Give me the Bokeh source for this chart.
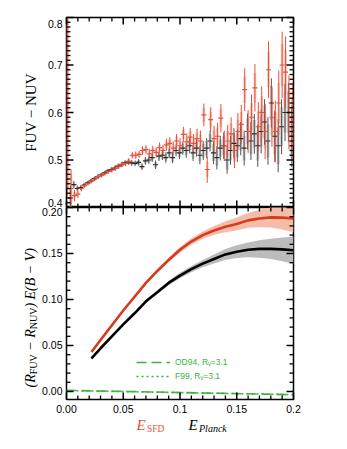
import numpy as np
from math import pi
from bokeh.plotting import figure
from bokeh.models import FixedTicker, Legend, LegendItem, Range1d, Label
from bokeh.layouts import column, row
from bokeh.embed import file_html
from bokeh.resources import INLINE

# ---------------- data ----------------
# top panel: FUV-NUV colour vs reddening, SFD (red) and Planck (black)
x_sfd = [0.001, 0.004, 0.007, 0.010, 0.013, 0.016, 0.019, 0.022, 0.025, 0.028,
         0.031, 0.034, 0.037, 0.040, 0.043, 0.046, 0.049, 0.052, 0.055, 0.058,
         0.061, 0.064, 0.067, 0.070, 0.073, 0.076, 0.079, 0.082, 0.085, 0.088,
         0.091, 0.094, 0.097, 0.100, 0.103, 0.106, 0.109, 0.112, 0.115, 0.118,
         0.121, 0.124, 0.127, 0.130, 0.133, 0.136, 0.139, 0.142, 0.145, 0.148,
         0.151, 0.154, 0.157, 0.160, 0.163, 0.166, 0.169, 0.172, 0.175, 0.178,
         0.181, 0.184, 0.187, 0.190, 0.193, 0.196, 0.199]
c_sfd = [0.62, 0.44, 0.425, 0.428, 0.44, 0.446, 0.451, 0.456, 0.46, 0.465,
         0.468, 0.472, 0.476, 0.479, 0.483, 0.487, 0.491, 0.493, 0.497, 0.51,
         0.51, 0.512, 0.52, 0.522, 0.513, 0.52, 0.516, 0.526, 0.52, 0.532,
         0.535, 0.525, 0.54, 0.53, 0.554, 0.538, 0.548, 0.535, 0.545, 0.54,
         0.595, 0.48, 0.585, 0.545, 0.55, 0.588, 0.53, 0.54, 0.555, 0.52,
         0.56, 0.575, 0.648, 0.56, 0.59, 0.652, 0.57, 0.6, 0.56, 0.69,
         0.59, 0.56, 0.62, 0.70, 0.685, 0.60, 0.58]
e_sfd = [0.2, 0.04, 0.012, 0.008, 0.006, 0.005, 0.005, 0.005, 0.005, 0.005,
         0.005, 0.005, 0.005, 0.005, 0.006, 0.006, 0.006, 0.006, 0.007, 0.007,
         0.008, 0.008, 0.009, 0.009, 0.010, 0.010, 0.011, 0.011, 0.012, 0.013,
         0.013, 0.014, 0.015, 0.016, 0.016, 0.018, 0.019, 0.020, 0.021, 0.022,
         0.024, 0.028, 0.026, 0.027, 0.028, 0.030, 0.032, 0.034, 0.035, 0.037,
         0.039, 0.041, 0.045, 0.045, 0.048, 0.05, 0.052, 0.055, 0.058, 0.06,
         0.062, 0.065, 0.068, 0.07, 0.075, 0.078, 0.08]
s_sfd = [0.18, 0.03, 0.008, 0.005, 0.004, 0.003, 0.003, 0.003, 0.003, 0.003,
         0.003, 0.003, 0.003, 0.003, 0.004, 0.004, 0.004, 0.004, 0.004, 0.004,
         0.005, 0.005, 0.006, 0.006, 0.006, 0.006, 0.007, 0.007, 0.008, 0.008,
         0.008, 0.009, 0.010, 0.010, 0.010, 0.011, 0.012, 0.012, 0.013, 0.014,
         0.015, 0.016, 0.016, 0.017, 0.018, 0.019, 0.020, 0.021, 0.022, 0.023,
         0.024, 0.026, 0.028, 0.028, 0.030, 0.031, 0.033, 0.034, 0.036, 0.037,
         0.039, 0.040, 0.042, 0.044, 0.046, 0.048, 0.05]

x_pl = [0.0035, 0.0065, 0.0095, 0.0125, 0.0155, 0.0185, 0.0215, 0.0245, 0.0275, 0.0305,
        0.0335, 0.0365, 0.0395, 0.0425, 0.0455, 0.0485, 0.0515, 0.0545, 0.0575, 0.0605,
        0.0635, 0.0665, 0.0695, 0.0725, 0.0755, 0.0785, 0.0815, 0.0845, 0.0875, 0.0905,
        0.0935, 0.0965, 0.0995, 0.1025, 0.1055, 0.1085, 0.1115, 0.1145, 0.1175, 0.1205,
        0.1235, 0.1265, 0.1295, 0.1325, 0.1355, 0.1385, 0.1415, 0.1445, 0.1475, 0.1505,
        0.1535, 0.1565, 0.1595, 0.1625, 0.1655, 0.1685, 0.1715, 0.1745, 0.1775, 0.1805,
        0.1835, 0.1865, 0.1895, 0.1925, 0.1955, 0.1985]
c_pl = [0.42, 0.448, 0.44, 0.442, 0.447, 0.452, 0.456, 0.461, 0.465, 0.469,
        0.473, 0.477, 0.48, 0.483, 0.487, 0.49, 0.494, 0.496, 0.494, 0.493,
        0.495, 0.486, 0.498, 0.50, 0.505, 0.49, 0.508, 0.51, 0.505, 0.515,
        0.505, 0.52, 0.515, 0.525, 0.52, 0.53, 0.515, 0.525, 0.51, 0.52,
        0.525, 0.54, 0.515, 0.505, 0.525, 0.53, 0.50, 0.52, 0.535, 0.53,
        0.545, 0.525, 0.56, 0.54, 0.555, 0.53, 0.56, 0.58, 0.54, 0.62,
        0.55, 0.53, 0.57, 0.60, 0.60, 0.55]
e_pl = [0.025, 0.008, 0.006, 0.005, 0.005, 0.004, 0.004, 0.004, 0.004, 0.004,
        0.004, 0.004, 0.005, 0.005, 0.005, 0.005, 0.005, 0.006, 0.006, 0.006,
        0.007, 0.007, 0.008, 0.008, 0.009, 0.009, 0.010, 0.010, 0.011, 0.011,
        0.012, 0.012, 0.013, 0.014, 0.015, 0.016, 0.017, 0.018, 0.019, 0.020,
        0.021, 0.022, 0.024, 0.025, 0.026, 0.028, 0.029, 0.030, 0.032, 0.034,
        0.035, 0.037, 0.038, 0.040, 0.042, 0.044, 0.046, 0.048, 0.050, 0.052,
        0.054, 0.056, 0.058, 0.060, 0.062, 0.065]
s_pl = [0.018, 0.005, 0.004, 0.003, 0.003, 0.003, 0.003, 0.003, 0.003, 0.003,
        0.003, 0.003, 0.003, 0.003, 0.003, 0.003, 0.004, 0.004, 0.004, 0.004,
        0.005, 0.005, 0.005, 0.005, 0.006, 0.006, 0.007, 0.007, 0.007, 0.008,
        0.008, 0.008, 0.009, 0.010, 0.010, 0.011, 0.012, 0.012, 0.013, 0.014,
        0.015, 0.015, 0.017, 0.017, 0.018, 0.020, 0.020, 0.021, 0.022, 0.024,
        0.025, 0.026, 0.027, 0.028, 0.029, 0.031, 0.032, 0.034, 0.035, 0.036,
        0.038, 0.039, 0.041, 0.042, 0.043, 0.045]

# bottom panel: fitted (R_FUV - R_NUV) E(B-V) curves
curve_e = [0.022, 0.03, 0.04, 0.05, 0.06, 0.07, 0.08, 0.09, 0.10, 0.11,
           0.12, 0.13, 0.14, 0.15, 0.16, 0.17, 0.18, 0.19, 0.20]
curve_sfd = [0.043, 0.056, 0.072, 0.088, 0.103, 0.118, 0.131, 0.143, 0.154, 0.163,
             0.170, 0.175, 0.179, 0.182, 0.186, 0.188, 0.1893, 0.189, 0.188]
band_sfd = [0.001, 0.001, 0.0012, 0.0014, 0.0016, 0.0018, 0.002, 0.0025, 0.003, 0.0035,
            0.004, 0.005, 0.006, 0.007, 0.008, 0.0095, 0.011, 0.013, 0.015]
curve_pl = [0.036, 0.047, 0.060, 0.073, 0.085, 0.098, 0.108, 0.118, 0.126, 0.133,
            0.139, 0.144, 0.149, 0.152, 0.154, 0.155, 0.155, 0.1545, 0.1535]
band_pl = [0.001, 0.001, 0.0012, 0.0014, 0.0016, 0.0018, 0.002, 0.0025, 0.003, 0.0035,
           0.004, 0.005, 0.006, 0.007, 0.008, 0.0095, 0.011, 0.013, 0.015]
law_e = [0.0, 0.05, 0.10, 0.15, 0.20]
od94 = [0.0012, 0.0001, -0.0011, -0.0023, -0.0035]
f99 = [0.0010, -0.0001, -0.0012, -0.0023, -0.0034]

xticks = [0.0, 0.05, 0.1, 0.15, 0.2]
xtick_labels = ["0.00", "0.05", "0.1", "0.15", "0.2"]
top_yticks = [0.4, 0.5, 0.6, 0.7, 0.8]
top_ylabels = ["0.4", "0.5", "0.6", "0.7", "0.8"]
bot_yticks = [0.0, 0.05, 0.10, 0.15, 0.20]
bot_ylabels = ["0.00", "0.05", "0.10", "0.15", "0.20"]

# ---------------- styling ----------------
RED = "#e8503a"
RED_PALE = "#f6c2b6"
BLK = "#2a2a2a"
BLK_PALE = "#bdbdbd"
RED_CURVE = "#d83a1e"
RED_BAND = "#f5bca9"
GRAY_BAND = "#bcbcbc"
GREEN = "#3db33d"
TICKFONT = "Liberation Sans"
SERIF = "Liberation Serif"

TITLE_W = 38          # strip holding the rotated y titles
FRAME_W = 227
LEFT = 28
RIGHT = 16
H1, H2 = 190, 192     # frame heights
TOP_B, BOT_B = 17, 17
XT_H = 28             # strip holding the x titles
PLOT_H = TOP_B + H1 + H2 + BOT_B
FIG_W = LEFT + FRAME_W + RIGHT
FULL_W = TITLE_W + FIG_W

X_RANGE = (0.0, 0.2)
Y1_RANGE = (0.4, 0.8)
Y2_RANGE = (-0.0087, 0.2)

x_minor = [round(0.01 * i, 3) for i in range(1, 20) if i % 5]
top_minor = [round(0.4 + 0.01 * i, 3) for i in range(1, 40) if i % 10]
bot_minor = [round(0.01 * i, 3) for i in range(1, 20) if i % 5]

MAJ, MIN = 7.0, 4.0   # tick lengths in px


def draw_ticks(p, yr, h, yt, yminor):
    """Inward IDL-style ticks on all four frame edges."""
    x0, x1 = X_RANGE
    y0, y1 = yr
    kx = (x1 - x0) / FRAME_W
    ky = (y1 - y0) / h
    for ticks, ln, lw in ((yt, MAJ, 1.5), (yminor, MIN, 1.3)):
        n = len(ticks)
        p.segment(x0=[x0] * n, y0=ticks, x1=[x0 + ln * kx] * n, y1=ticks,
                  line_color="black", line_width=lw, level="overlay")
        p.segment(x0=[x1] * n, y0=ticks, x1=[x1 - ln * kx] * n, y1=ticks,
                  line_color="black", line_width=lw, level="overlay")
    for ticks, ln, lw in ((xticks, MAJ, 1.5), (x_minor, MIN, 1.3)):
        n = len(ticks)
        p.segment(x0=ticks, y0=[y0] * n, x1=ticks, y1=[y0 + ln * ky] * n,
                  line_color="black", line_width=lw, level="overlay")
        p.segment(x0=ticks, y0=[y1] * n, x1=ticks, y1=[y1 - ln * ky] * n,
                  line_color="black", line_width=lw, level="overlay")


def base_style(p, label_pos, labels):
    ly = p.left[0]
    ly.ticker = FixedTicker(ticks=label_pos, minor_ticks=[])
    ly.major_label_overrides = {t: l for t, l in zip(label_pos, labels)}
    for ax in p.axis:
        ax.major_tick_in = 0
        ax.major_tick_out = 0
        ax.minor_tick_in = 0
        ax.minor_tick_out = 0
        ax.axis_line_color = None
        ax.major_label_text_font = TICKFONT
        ax.major_label_text_font_size = "10.5px"
        ax.major_label_text_color = "black"
    ly.major_label_standoff = 4
    p.grid.visible = False
    p.outline_line_color = "black"
    p.outline_line_width = 1.5
    p.background_fill_color = "white"
    p.border_fill_color = "white"


# ---------------- top panel ----------------
p1 = figure(frame_width=FRAME_W, frame_height=H1, x_range=Range1d(*X_RANGE),
            y_range=Range1d(*Y1_RANGE), output_backend="svg", toolbar_location=None,
            min_border_left=LEFT, min_border_right=RIGHT, min_border_top=TOP_B,
            min_border_bottom=0)
k1 = (Y1_RANGE[1] - Y1_RANGE[0]) / H1
lab1 = list(top_yticks)
lab1[0] = top_yticks[0] + 5.0 * k1      # edge labels sit inside, as in the original
lab1[-1] = top_yticks[-1] - 6.5 * k1
base_style(p1, lab1, top_ylabels)
p1.xaxis.visible = False

xs, cs, es, ss = map(np.array, (x_sfd, c_sfd, e_sfd, s_sfd))
xp, cp, ep, sp = map(np.array, (x_pl, c_pl, e_pl, s_pl))

p1.vbar(x=xp, width=0.0024, bottom=cp - sp, top=cp + sp, fill_color=BLK_PALE,
        line_color=None, fill_alpha=0.9)
p1.vbar(x=xs, width=0.0024, bottom=cs - ss, top=cs + ss, fill_color=RED_PALE,
        line_color=None, fill_alpha=0.9)
p1.segment(x0=xp, y0=cp - ep, x1=xp, y1=cp + ep, line_color="#555555", line_width=1)
p1.segment(x0=xs, y0=cs - es, x1=xs, y1=cs + es, line_color=RED, line_width=1)
p1.scatter(x=xp, y=cp, marker="dash", size=5, line_color=BLK, line_width=1.2)
p1.scatter(x=xs, y=cs, marker="dash", size=5, line_color=RED, line_width=1.2)
draw_ticks(p1, Y1_RANGE, H1, top_yticks, top_minor)

# ---------------- bottom panel ----------------
p2 = figure(frame_width=FRAME_W, frame_height=H2, x_range=p1.x_range,
            y_range=Range1d(*Y2_RANGE), output_backend="svg", toolbar_location=None,
            min_border_left=LEFT, min_border_right=RIGHT, min_border_top=0,
            min_border_bottom=BOT_B)
k2 = (Y2_RANGE[1] - Y2_RANGE[0]) / H2
lab2 = list(bot_yticks)
lab2[-1] = bot_yticks[-1] - 4.5 * k2
base_style(p2, lab2, bot_ylabels)
bx = p2.below[0]
bx.ticker = FixedTicker(ticks=xticks, minor_ticks=[])
bx.major_label_overrides = {t: l for t, l in zip(xticks, xtick_labels)}
bx.major_label_standoff = 5

ce = np.array(curve_e)
csf, bsf = np.array(curve_sfd), np.array(band_sfd)
cpl, bpl = np.array(curve_pl), np.array(band_pl)
p2.varea(x=ce, y1=csf - bsf, y2=csf + bsf, fill_color=RED_BAND)
p2.varea(x=ce, y1=cpl - bpl, y2=cpl + bpl, fill_color=GRAY_BAND)
p2.line(ce, csf, line_color=RED_CURVE, line_width=2.6)
p2.line(ce, cpl, line_color="black", line_width=2.6)

r_od = p2.line(law_e, od94, line_color=GREEN, line_width=1.6, line_dash="10 5")
r_f99 = p2.line(law_e, f99, line_color=GREEN, line_width=1.6, line_dash="2 3")
draw_ticks(p2, Y2_RANGE, H2, bot_yticks, bot_minor)

legend = Legend(items=[LegendItem(label="OD94, R\u1d65=3.1", renderers=[r_od]),
                       LegendItem(label="F99, R\u1d65=3.1", renderers=[r_f99])],
                location=(70, 16), glyph_width=34, glyph_height=14, label_height=14,
                label_width=10, spacing=0, padding=0, margin=0, label_standoff=5,
                border_line_color=None, background_fill_alpha=0,
                label_text_font=TICKFONT, label_text_font_size="8.5px",
                label_text_color=GREEN)
p2.add_layout(legend)


# ---------------- title strips (canvas text, page-pixel coordinates) ----------------
def strip(w, h, x0, y0):
    f = figure(width=w, height=h, x_range=Range1d(x0, x0 + w), y_range=Range1d(y0 + h, y0),
               output_backend="svg", toolbar_location=None, min_border=0,
               x_axis_location=None, y_axis_location=None, outline_line_color=None)
    f.grid.visible = False
    f.background_fill_color = "white"
    f.border_fill_color = "white"
    return f


def lab(p, x, y, text, size, color="black", style="normal", angle=0.0,
        align="left", baseline="middle"):
    p.add_layout(Label(x=x, y=y, text=text, text_font=SERIF, text_font_size=size,
                       text_font_style=style, text_color=color, angle=angle,
                       text_align=align, text_baseline=baseline))


ty = strip(TITLE_W, PLOT_H, 0, 0)
lab(ty, 30, 112, "FUV \u2212 NUV", "15px", angle=pi / 2, align="center")
R90 = pi / 2
lab(ty, 30, 387.0, "(R", "14px", style="italic", angle=R90)
lab(ty, 33, 373.8, "FUV", "10px", angle=R90)
lab(ty, 30, 353.8, "\u00a0\u2212\u00a0R", "14px", style="italic", angle=R90)
lab(ty, 33, 328.8, "NUV", "10px", angle=R90)
lab(ty, 30, 307.1, ")\u00a0E(B\u00a0\u2212\u00a0V)", "14px", style="italic", angle=R90)

tx = strip(FULL_W, XT_H, 0, PLOT_H)
lab(tx, 136, 424.5, "E", "15px", color=RED, style="italic")
lab(tx, 146.5, 428, "SFD", "9.5px", color=RED)
lab(tx, 188, 424.5, "E", "15px", style="italic")
lab(tx, 198.5, 428, "Planck", "10px", style="italic")

layout = column(row(ty, column(p1, p2, spacing=0), spacing=0), tx, spacing=0)
open("out.html", "w").write(file_html(layout, INLINE))
